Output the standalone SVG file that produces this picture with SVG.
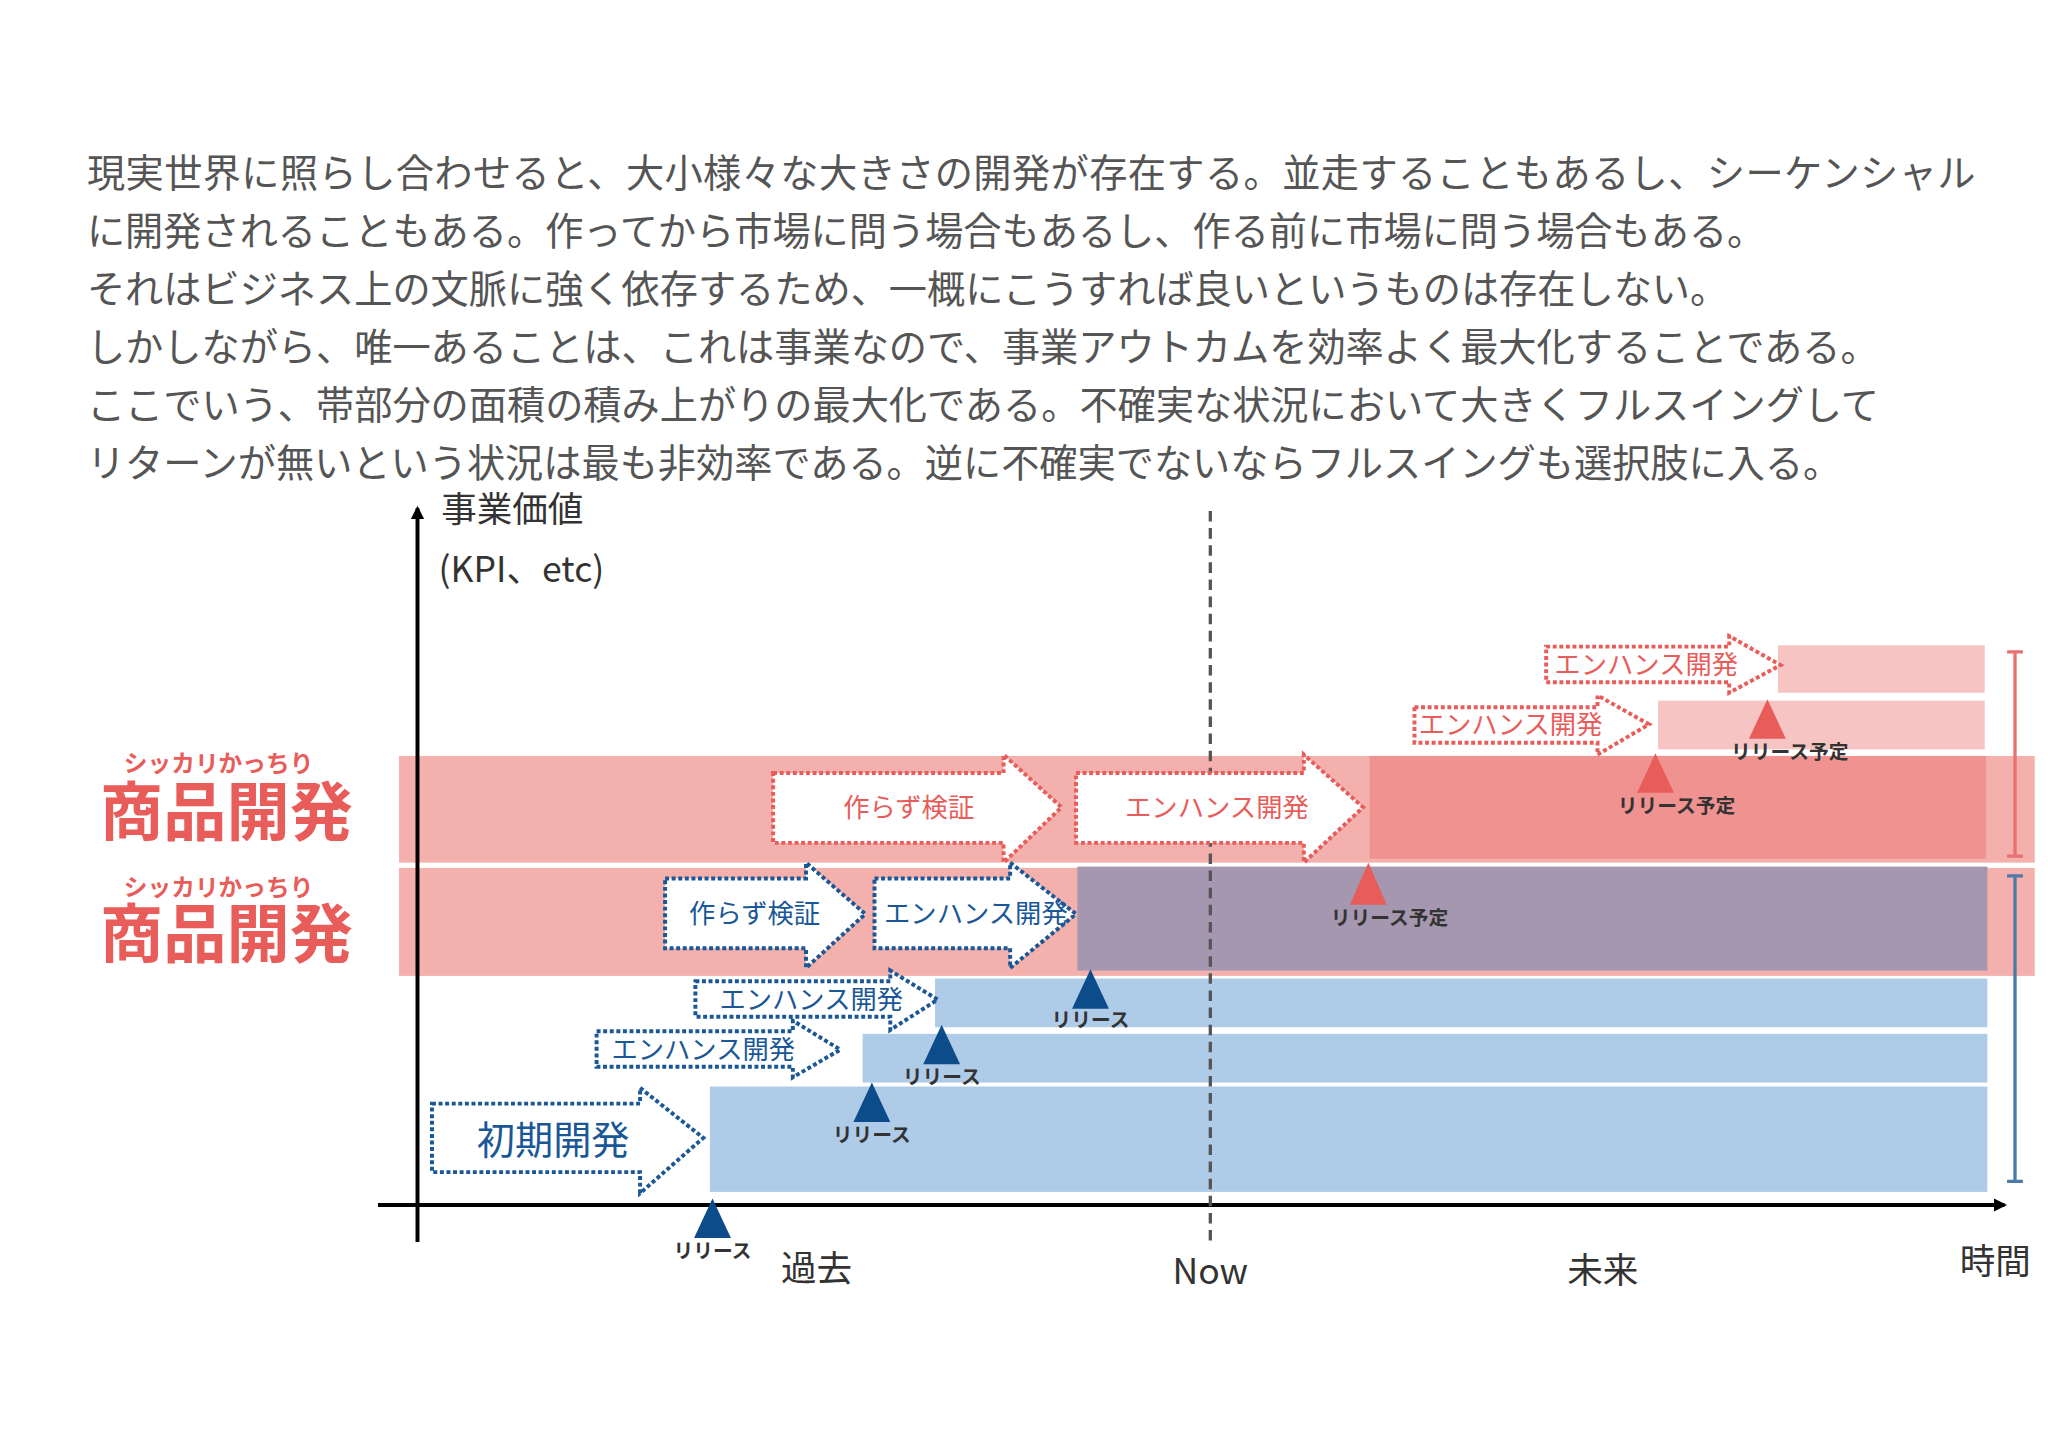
<svg xmlns="http://www.w3.org/2000/svg" width="2048" height="1447" viewBox="0 0 2048 1447">
<defs>
<style>
text{font-family:"Noto Sans CJK JP","Liberation Sans",sans-serif}
.p{font-size:29px;fill:#555}
.ax{font-size:27px;fill:#333}
.rb{stroke:#e85c5a;stroke-width:3;stroke-dasharray:3 2;fill:#fff}
.bb{stroke:#1a5796;stroke-width:3;stroke-dasharray:3 2;fill:#fff}
.rt{fill:#e85c5a;font-size:20px;text-anchor:middle}
.bt{fill:#1a5796;font-size:20px;text-anchor:middle}
.rel{font-size:15px;font-weight:bold;fill:#333;text-anchor:middle}
.big{font-size:48px;font-weight:bold;fill:#e85c5a;text-anchor:middle}
.small{font-size:18px;font-weight:bold;fill:#e85c5a;text-anchor:middle}
</style>
<marker id="ah" markerWidth="10" markerHeight="10" refX="8" refY="5" orient="auto" markerUnits="userSpaceOnUse"><path d="M0,0 L10,5 L0,10 z" fill="#000"/></marker>
</defs>
<rect width="2048" height="1447" fill="#fff"/>
<g transform="scale(1.317)">
<g id="paragraph">
<text class="p" x="66" y="142" textLength="1434" lengthAdjust="spacing">現実世界に照らし合わせると、大小様々な大きさの開発が存在する。並走することもあるし、シーケンシャル</text>
<text class="p" x="66" y="186">に開発されることもある。作ってから市場に問う場合もあるし、作る前に市場に問う場合もある。</text>
<text class="p" x="66" y="230">それはビジネス上の文脈に強く依存するため、一概にこうすれば良いというものは存在しない。</text>
<text class="p" x="66" y="274">しかしながら、唯一あることは、これは事業なので、事業アウトカムを効率よく最大化することである。</text>
<text class="p" x="66" y="318">ここでいう、帯部分の面積の積み上がりの最大化である。不確実な状況において大きくフルスイングして</text>
<text class="p" x="66" y="362">リターンが無いという状況は最も非効率である。逆に不確実でないならフルスイングも選択肢に入る。</text>
</g>
<g id="bands">
<rect x="303" y="574" width="1242" height="81" fill="#f4b0ad"/>
<rect x="303" y="659" width="1242" height="82" fill="#f4b0ad"/>
<rect x="1040" y="574" width="468" height="78" fill="#ef9290"/>
<rect x="818" y="658" width="691" height="79" fill="#a597b0"/>
<rect x="1350" y="490" width="157" height="36" fill="#f7c4c4"/>
<rect x="1259" y="532" width="248" height="37" fill="#f7c4c4"/>
<rect x="710" y="743" width="799" height="37" fill="#aecbe8"/>
<rect x="655" y="785" width="854" height="37" fill="#aecbe8"/>
<rect x="539" y="825" width="970" height="80" fill="#aecbe8"/>
</g>
<g id="labels-left">
<text class="small" x="166" y="586">シッカリかっちり</text>
<text class="big" x="172" y="634">商品開発</text>
<text class="small" x="166" y="680">シッカリかっちり</text>
<text class="big" x="172" y="727">商品開発</text>
</g>
<g id="connectors" fill="none">
<line x1="317" y1="943" x2="317" y2="386" stroke="#000" stroke-width="3" marker-end="url(#ah)"/>
<line x1="287" y1="915" x2="1522" y2="915" stroke="#000" stroke-width="3" marker-end="url(#ah)"/>
<line x1="919" y1="388" x2="919" y2="945" stroke="#555" stroke-width="2.5" stroke-dasharray="8 5"/>
<path d="M1524,495 H1536 M1530,495 V650 M1524,650 H1536" stroke="#e87070" stroke-width="2.5"/>
<path d="M1524,665 H1536 M1530,665 V897 M1524,897 H1536" stroke="#4a7aa8" stroke-width="2.5"/>
</g>
<g id="axis-labels">
<text class="ax" x="335" y="396">事業価値</text>
<text class="ax" x="333" y="442" font-family="Liberation Sans,sans-serif">(KPI、etc)</text>
<text class="ax" x="919" y="975" text-anchor="middle">Now</text>
<text class="ax" x="620" y="973" text-anchor="middle">過去</text>
<text class="ax" x="1217" y="974" text-anchor="middle">未来</text>
<text class="ax" x="1515" y="967" text-anchor="middle">時間</text>
</g>
<g id="arrows">
<path class="rb" d="M587,587 H762 V573 L806,613 L762,655 V640 H587 Z"/>
<text class="rt" x="690" y="620">作らず検証</text>
<path class="rb" d="M817,587 H990 V573 L1035,613 L990,655 V640 H817 Z"/>
<text class="rt" x="924" y="620">エンハンス開発</text>
<path class="rb" d="M1174,491 H1313 V483 L1352,505 L1313,526 V518 H1174 Z"/>
<text class="rt" x="1250" y="512">エンハンス開発</text>
<path class="rb" d="M1074,537 H1213 V528 L1252,550 L1213,573 V564 H1074 Z"/>
<text class="rt" x="1147" y="557">エンハンス開発</text>
<path class="bb" d="M505,667 H612 V655 L657,694 L612,735 V720 H505 Z"/>
<text class="bt" x="573" y="701">作らず検証</text>
<path class="bb" d="M664,667 H767 V655 L817,694 L767,735 V720 H664 Z"/>
<text class="bt" x="741" y="701">エンハンス開発</text>
<path class="bb" d="M528,745 H676 V737 L712,759 L676,782 V772 H528 Z"/>
<text class="bt" x="616" y="766">エンハンス開発</text>
<path class="bb" d="M453,783 H602 V775 L638,797 L602,818 V810 H453 Z"/>
<text class="bt" x="534" y="804">エンハンス開発</text>
<path class="bb" d="M328,838 H486 V826 L534,864 L486,906 V890 H328 Z"/>
<text class="bt" x="420" y="876" style="font-size:29px">初期開発</text>
</g>
<g id="releases">
<path d="M541,910 L555,940 H527 Z" fill="#0d4c8a"/><text class="rel" x="541" y="955">リリース</text>
<path d="M662,822 L676,852 H648 Z" fill="#0d4c8a"/><text class="rel" x="662" y="867">リリース</text>
<path d="M715,778 L729,808 H701 Z" fill="#0d4c8a"/><text class="rel" x="715" y="823">リリース</text>
<path d="M828,736 L842,766 H814 Z" fill="#0d4c8a"/><text class="rel" x="828" y="780">リリース</text>
<path d="M1039,655 L1053,687 H1025 Z" fill="#e85c5a"/><text class="rel" x="1055" y="702">リリース予定</text>
<path d="M1257,572 L1271,602 H1243 Z" fill="#e85c5a"/><text class="rel" x="1273" y="617">リリース予定</text>
<path d="M1342,531 L1356,561 H1328 Z" fill="#e85c5a"/><text class="rel" x="1359" y="576">リリース予定</text>
</g>
</g>
</svg>
